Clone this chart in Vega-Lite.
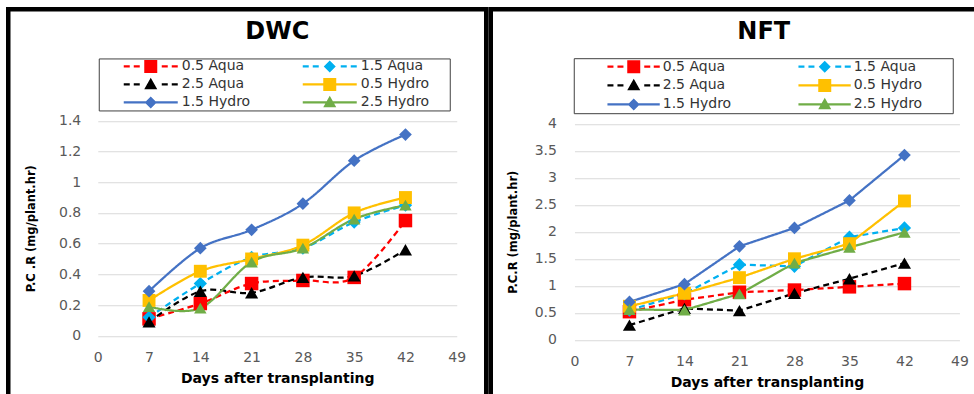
{
  "$schema": "https://vega.github.io/schema/vega-lite/v6.json",
  "background": "#ffffff",
  "padding": {"left": 5.25, "top": 6.25, "right": 0, "bottom": 0},
  "spacing": 4.5,
  "bounds": "flush",
  "datasets": {
    "pcr": [
      {"system": "DWC", "series": "0.5 Aqua", "day": 7, "pcr": 0.11},
      {"system": "DWC", "series": "0.5 Aqua", "day": 14, "pcr": 0.21},
      {"system": "DWC", "series": "0.5 Aqua", "day": 21, "pcr": 0.34},
      {"system": "DWC", "series": "0.5 Aqua", "day": 28, "pcr": 0.36},
      {"system": "DWC", "series": "0.5 Aqua", "day": 35, "pcr": 0.38},
      {"system": "DWC", "series": "0.5 Aqua", "day": 42, "pcr": 0.75},
      {"system": "DWC", "series": "1.5 Aqua", "day": 7, "pcr": 0.12},
      {"system": "DWC", "series": "1.5 Aqua", "day": 14, "pcr": 0.34},
      {"system": "DWC", "series": "1.5 Aqua", "day": 21, "pcr": 0.51},
      {"system": "DWC", "series": "1.5 Aqua", "day": 28, "pcr": 0.57},
      {"system": "DWC", "series": "1.5 Aqua", "day": 35, "pcr": 0.74},
      {"system": "DWC", "series": "1.5 Aqua", "day": 42, "pcr": 0.85},
      {"system": "DWC", "series": "2.5 Aqua", "day": 7, "pcr": 0.09},
      {"system": "DWC", "series": "2.5 Aqua", "day": 14, "pcr": 0.29},
      {"system": "DWC", "series": "2.5 Aqua", "day": 21, "pcr": 0.28},
      {"system": "DWC", "series": "2.5 Aqua", "day": 28, "pcr": 0.38},
      {"system": "DWC", "series": "2.5 Aqua", "day": 35, "pcr": 0.39},
      {"system": "DWC", "series": "2.5 Aqua", "day": 42, "pcr": 0.56},
      {"system": "DWC", "series": "0.5 Hydro", "day": 7, "pcr": 0.23},
      {"system": "DWC", "series": "0.5 Hydro", "day": 14, "pcr": 0.42},
      {"system": "DWC", "series": "0.5 Hydro", "day": 21, "pcr": 0.5},
      {"system": "DWC", "series": "0.5 Hydro", "day": 28, "pcr": 0.59},
      {"system": "DWC", "series": "0.5 Hydro", "day": 35, "pcr": 0.8},
      {"system": "DWC", "series": "0.5 Hydro", "day": 42, "pcr": 0.9},
      {"system": "DWC", "series": "1.5 Hydro", "day": 7, "pcr": 0.29},
      {"system": "DWC", "series": "1.5 Hydro", "day": 14, "pcr": 0.57},
      {"system": "DWC", "series": "1.5 Hydro", "day": 21, "pcr": 0.69},
      {"system": "DWC", "series": "1.5 Hydro", "day": 28, "pcr": 0.86},
      {"system": "DWC", "series": "1.5 Hydro", "day": 35, "pcr": 1.14},
      {"system": "DWC", "series": "1.5 Hydro", "day": 42, "pcr": 1.31},
      {"system": "DWC", "series": "2.5 Hydro", "day": 7, "pcr": 0.19},
      {"system": "DWC", "series": "2.5 Hydro", "day": 14, "pcr": 0.18},
      {"system": "DWC", "series": "2.5 Hydro", "day": 21, "pcr": 0.48},
      {"system": "DWC", "series": "2.5 Hydro", "day": 28, "pcr": 0.57},
      {"system": "DWC", "series": "2.5 Hydro", "day": 35, "pcr": 0.76},
      {"system": "DWC", "series": "2.5 Hydro", "day": 42, "pcr": 0.85},
      {"system": "NFT", "series": "0.5 Aqua", "day": 7, "pcr": 0.52},
      {"system": "NFT", "series": "0.5 Aqua", "day": 14, "pcr": 0.74},
      {"system": "NFT", "series": "0.5 Aqua", "day": 21, "pcr": 0.88},
      {"system": "NFT", "series": "0.5 Aqua", "day": 28, "pcr": 0.92},
      {"system": "NFT", "series": "0.5 Aqua", "day": 35, "pcr": 0.98},
      {"system": "NFT", "series": "0.5 Aqua", "day": 42, "pcr": 1.04},
      {"system": "NFT", "series": "1.5 Aqua", "day": 7, "pcr": 0.55},
      {"system": "NFT", "series": "1.5 Aqua", "day": 14, "pcr": 0.85},
      {"system": "NFT", "series": "1.5 Aqua", "day": 21, "pcr": 1.39},
      {"system": "NFT", "series": "1.5 Aqua", "day": 28, "pcr": 1.36},
      {"system": "NFT", "series": "1.5 Aqua", "day": 35, "pcr": 1.9},
      {"system": "NFT", "series": "1.5 Aqua", "day": 42, "pcr": 2.07},
      {"system": "NFT", "series": "2.5 Aqua", "day": 7, "pcr": 0.27},
      {"system": "NFT", "series": "2.5 Aqua", "day": 14, "pcr": 0.58},
      {"system": "NFT", "series": "2.5 Aqua", "day": 21, "pcr": 0.54},
      {"system": "NFT", "series": "2.5 Aqua", "day": 28, "pcr": 0.86},
      {"system": "NFT", "series": "2.5 Aqua", "day": 35, "pcr": 1.13},
      {"system": "NFT", "series": "2.5 Aqua", "day": 42, "pcr": 1.42},
      {"system": "NFT", "series": "0.5 Hydro", "day": 7, "pcr": 0.62},
      {"system": "NFT", "series": "0.5 Hydro", "day": 14, "pcr": 0.86},
      {"system": "NFT", "series": "0.5 Hydro", "day": 21, "pcr": 1.15},
      {"system": "NFT", "series": "0.5 Hydro", "day": 28, "pcr": 1.5},
      {"system": "NFT", "series": "0.5 Hydro", "day": 35, "pcr": 1.78},
      {"system": "NFT", "series": "0.5 Hydro", "day": 42, "pcr": 2.57},
      {"system": "NFT", "series": "1.5 Hydro", "day": 7, "pcr": 0.7},
      {"system": "NFT", "series": "1.5 Hydro", "day": 14, "pcr": 1.03},
      {"system": "NFT", "series": "1.5 Hydro", "day": 21, "pcr": 1.73},
      {"system": "NFT", "series": "1.5 Hydro", "day": 28, "pcr": 2.07},
      {"system": "NFT", "series": "1.5 Hydro", "day": 35, "pcr": 2.58},
      {"system": "NFT", "series": "1.5 Hydro", "day": 42, "pcr": 3.42},
      {"system": "NFT", "series": "2.5 Hydro", "day": 7, "pcr": 0.56},
      {"system": "NFT", "series": "2.5 Hydro", "day": 14, "pcr": 0.55},
      {"system": "NFT", "series": "2.5 Hydro", "day": 21, "pcr": 0.85},
      {"system": "NFT", "series": "2.5 Hydro", "day": 28, "pcr": 1.42},
      {"system": "NFT", "series": "2.5 Hydro", "day": 35, "pcr": 1.71},
      {"system": "NFT", "series": "2.5 Hydro", "day": 42, "pcr": 1.99}
    ]
  },
  "hconcat": [
    {
      "width": 478,
      "height": 390,
      "data": {"name": "pcr"},
      "transform": [{"filter": "datum.system === 'DWC'"}],
      "title": {"text": "DWC", "anchor": "middle", "frame": "group", "offset": -34.5, "dx": 30, "font": "DejaVu Sans", "fontSize": 24, "fontWeight": "bold", "color": "#000000"},
      "resolve": {"scale": {"color": "independent", "shape": "independent"}},
      "encoding": {
        "x": {
          "field": "day", "type": "quantitative",
          "scale": {"domain": [0, 49], "range": [89.5, 448.5], "nice": false, "zero": false},
          "axis": {"values": [0, 7, 14, 21, 28, 35, 42, 49], "title": "Days after transplanting", "offset": -63.5, "grid": false, "ticks": false, "domain": false, "labelFlush": false, "labelPadding": 15, "labelFontSize": 14, "labelColor": "#595959", "titleFontSize": 14, "titleFontWeight": "bold", "titleColor": "#000000", "titlePadding": 7}
        },
        "y": {
          "field": "pcr", "type": "quantitative",
          "scale": {"domain": [0, 1.4], "range": [326.5, 111.5], "nice": false},
          "axis": {"values": [0, 0.2, 0.4, 0.6, 0.8, 1, 1.2, 1.4], "format": "~g", "title": "P.C .R (mg/plant.hr)", "offset": -89.5, "grid": true, "gridColor": "#D9D9D9", "gridWidth": 1, "ticks": false, "domain": false, "labelFlush": false, "labelPadding": 17, "labelFontSize": 14, "labelColor": "#595959", "titleFontSize": 11.5, "titleFontWeight": "bold", "titleColor": "#000000", "titlePadding": 22}
        }
      },
      "layer": [
        {
          "data": {"values": [{}]},
          "mark": {"type": "rect", "filled": false, "color": "#404040", "strokeWidth": 1},
          "encoding": {
            "x": {"datum": 0, "type": "quantitative"},
            "x2": {"datum": 49},
            "y": {"datum": 0, "type": "quantitative"},
            "y2": {"datum": 1.4}
          }
        },
        {
          "mark": {"type": "line", "interpolate": "cardinal", "strokeWidth": 2.25},
          "encoding": {
            "color": {"field": "series", "type": "nominal", "legend": null,
              "scale": {"domain": ["0.5 Aqua", "1.5 Aqua", "2.5 Aqua", "0.5 Hydro", "1.5 Hydro", "2.5 Hydro"], "range": ["#FF0000", "#00B0F0", "#000000", "#FFC000", "#4472C4", "#70AD47"]}},
            "strokeDash": {"field": "series", "type": "nominal", "legend": null,
              "scale": {"domain": ["0.5 Aqua", "1.5 Aqua", "2.5 Aqua", "0.5 Hydro", "1.5 Hydro", "2.5 Hydro"], "range": [[6, 4], [6, 4], [6, 4], [1, 0], [1, 0], [1, 0]]}}
          }
        },
        {
          "mark": {"type": "point", "filled": true, "opacity": 1},
          "encoding": {
            "color": {"field": "series", "type": "nominal", "legend": null,
              "scale": {"domain": ["0.5 Aqua", "1.5 Aqua", "2.5 Aqua", "0.5 Hydro", "1.5 Hydro", "2.5 Hydro"], "range": ["#FF0000", "#00B0F0", "#000000", "#FFC000", "#4472C4", "#70AD47"]}},
            "shape": {"field": "series", "type": "nominal", "legend": null,
              "scale": {"domain": ["0.5 Aqua", "1.5 Aqua", "2.5 Aqua", "0.5 Hydro", "1.5 Hydro", "2.5 Hydro"], "range": ["square", "diamond", "triangle-up", "square", "diamond", "triangle-up"]}},
            "size": {"field": "series", "type": "ordinal", "legend": null,
              "scale": {"domain": ["0.5 Aqua", "1.5 Aqua", "2.5 Aqua", "0.5 Hydro", "1.5 Hydro", "2.5 Hydro"], "range": [182, 156, 196, 182, 156, 196]}}
          }
        },
        {
          "transform": [{"filter": "false"}],
          "mark": {"type": "point", "filled": true},
          "encoding": {
            "color": {"field": "series", "type": "nominal",
              "scale": {"domain": ["0.5 Aqua", "2.5 Aqua", "1.5 Hydro", "1.5 Aqua", "0.5 Hydro", "2.5 Hydro"], "range": ["#FF0000", "#000000", "#4472C4", "#00B0F0", "#FFC000", "#70AD47"]},
              "legend": {"orient": "none", "legendX": 90.5, "legendY": 49.2, "columns": 2, "columnPadding": 27, "rowPadding": 2, "padding": 0, "clipHeight": 16, "symbolSize": 6400, "symbolStrokeWidth": 0, "symbolOpacity": 1, "labelOffset": 3, "labelFontSize": 14, "labelColor": "#333333", "strokeColor": "#404040", "title": " ", "titleOrient": "right", "titlePadding": 21, "titleFontSize": 14, "gridAlign": "each"}},
            "shape": {"field": "series", "type": "nominal",
              "scale": {"domain": ["0.5 Aqua", "2.5 Aqua", "1.5 Hydro", "1.5 Aqua", "0.5 Hydro", "2.5 Hydro"], "range": [
                "M-0.375,-0.0275H-0.225V0.0275H-0.375Z M-0.125,-0.0275H0.025V0.0275H-0.125Z M0.575,-0.0275H0.725V0.0275H0.575Z M0.825,-0.0275H0.975V0.0275H0.825Z M0.1375,-0.1625H0.4625V0.1625H0.1375Z",
                "M-0.375,-0.0275H-0.225V0.0275H-0.375Z M-0.125,-0.0275H0.025V0.0275H-0.125Z M0.575,-0.0275H0.725V0.0275H0.575Z M0.825,-0.0275H0.975V0.0275H0.825Z M0.3,-0.165L0.4625,0.12L0.1375,0.12Z",
                "M-0.375,-0.0275H0.975V0.0275H-0.375Z M0.3,-0.15L0.45,0L0.3,0.15L0.15,0Z",
                "M-0.375,-0.0275H-0.225V0.0275H-0.375Z M-0.125,-0.0275H0.025V0.0275H-0.125Z M0.575,-0.0275H0.725V0.0275H0.575Z M0.825,-0.0275H0.975V0.0275H0.825Z M0.3,-0.15L0.45,0L0.3,0.15L0.15,0Z",
                "M-0.375,-0.0275H0.975V0.0275H-0.375Z M0.1375,-0.1625H0.4625V0.1625H0.1375Z",
                "M-0.375,-0.0275H0.975V0.0275H-0.375Z M0.3,-0.165L0.4625,0.12L0.1375,0.12Z"
              ]},
              "legend": {"orient": "none", "legendX": 90.5, "legendY": 49.2, "columns": 2, "columnPadding": 27, "rowPadding": 2, "padding": 0, "clipHeight": 16, "symbolSize": 6400, "symbolStrokeWidth": 0, "symbolOpacity": 1, "labelOffset": 3, "labelFontSize": 14, "labelColor": "#333333", "strokeColor": "#404040", "title": " ", "titleOrient": "right", "titlePadding": 21, "titleFontSize": 14, "gridAlign": "each"}}
          }
        }
      ]
    },
    {
      "width": 490,
      "height": 390,
      "data": {"name": "pcr"},
      "transform": [{"filter": "datum.system === 'NFT'"}],
      "title": {"text": "NFT", "anchor": "middle", "frame": "group", "offset": -34.5, "dx": 28, "font": "DejaVu Sans", "fontSize": 24, "fontWeight": "bold", "color": "#000000"},
      "resolve": {"scale": {"color": "independent", "shape": "independent"}},
      "encoding": {
        "x": {
          "field": "day", "type": "quantitative",
          "scale": {"domain": [0, 49], "range": [83.7, 468.7], "nice": false, "zero": false},
          "axis": {"values": [0, 7, 14, 21, 28, 35, 42, 49], "title": "Days after transplanting", "offset": -59.5, "grid": false, "ticks": false, "domain": false, "labelFlush": false, "labelPadding": 15, "labelFontSize": 14, "labelColor": "#595959", "titleFontSize": 14, "titleFontWeight": "bold", "titleColor": "#000000", "titlePadding": 7}
        },
        "y": {
          "field": "pcr", "type": "quantitative",
          "scale": {"domain": [0, 4], "range": [330.5, 114.5], "nice": false},
          "axis": {"values": [0, 0.5, 1, 1.5, 2, 2.5, 3, 3.5, 4], "format": "~g", "title": "P.C.R (mg/plant.hr)", "offset": -83.7, "grid": true, "gridColor": "#D9D9D9", "gridWidth": 1, "ticks": false, "domain": false, "labelFlush": false, "labelPadding": 18, "labelFontSize": 14, "labelColor": "#595959", "titleFontSize": 11.5, "titleFontWeight": "bold", "titleColor": "#000000", "titlePadding": 16}
        }
      },
      "layer": [
        {
          "data": {"values": [{}]},
          "mark": {"type": "rect", "filled": false, "color": "#404040", "strokeWidth": 1},
          "encoding": {
            "x": {"datum": 0, "type": "quantitative"},
            "x2": {"datum": 49},
            "y": {"datum": 0, "type": "quantitative"},
            "y2": {"datum": 4}
          }
        },
        {
          "mark": {"type": "line", "interpolate": "linear", "strokeWidth": 2.25},
          "encoding": {
            "color": {"field": "series", "type": "nominal", "legend": null,
              "scale": {"domain": ["0.5 Aqua", "1.5 Aqua", "2.5 Aqua", "0.5 Hydro", "1.5 Hydro", "2.5 Hydro"], "range": ["#FF0000", "#00B0F0", "#000000", "#FFC000", "#4472C4", "#70AD47"]}},
            "strokeDash": {"field": "series", "type": "nominal", "legend": null,
              "scale": {"domain": ["0.5 Aqua", "1.5 Aqua", "2.5 Aqua", "0.5 Hydro", "1.5 Hydro", "2.5 Hydro"], "range": [[6, 4], [6, 4], [6, 4], [1, 0], [1, 0], [1, 0]]}}
          }
        },
        {
          "mark": {"type": "point", "filled": true, "opacity": 1},
          "encoding": {
            "color": {"field": "series", "type": "nominal", "legend": null,
              "scale": {"domain": ["0.5 Aqua", "1.5 Aqua", "2.5 Aqua", "0.5 Hydro", "1.5 Hydro", "2.5 Hydro"], "range": ["#FF0000", "#00B0F0", "#000000", "#FFC000", "#4472C4", "#70AD47"]}},
            "shape": {"field": "series", "type": "nominal", "legend": null,
              "scale": {"domain": ["0.5 Aqua", "1.5 Aqua", "2.5 Aqua", "0.5 Hydro", "1.5 Hydro", "2.5 Hydro"], "range": ["square", "diamond", "triangle-up", "square", "diamond", "triangle-up"]}},
            "size": {"field": "series", "type": "ordinal", "legend": null,
              "scale": {"domain": ["0.5 Aqua", "1.5 Aqua", "2.5 Aqua", "0.5 Hydro", "1.5 Hydro", "2.5 Hydro"], "range": [182, 156, 196, 182, 156, 196]}}
          }
        },
        {
          "transform": [{"filter": "false"}],
          "mark": {"type": "point", "filled": true},
          "encoding": {
            "color": {"field": "series", "type": "nominal",
              "scale": {"domain": ["0.5 Aqua", "2.5 Aqua", "1.5 Hydro", "1.5 Aqua", "0.5 Hydro", "2.5 Hydro"], "range": ["#FF0000", "#000000", "#4472C4", "#00B0F0", "#FFC000", "#70AD47"]},
              "legend": {"orient": "none", "legendX": 83, "legendY": 48.95, "columns": 2, "columnPadding": 33, "rowPadding": 2, "padding": 0, "clipHeight": 16.5, "symbolSize": 7396, "symbolStrokeWidth": 0, "symbolOpacity": 1, "labelOffset": 3, "labelFontSize": 14, "labelColor": "#333333", "strokeColor": "#404040", "title": " ", "titleOrient": "right", "titlePadding": 31, "titleFontSize": 14, "gridAlign": "each"}},
            "shape": {"field": "series", "type": "nominal",
              "scale": {"domain": ["0.5 Aqua", "2.5 Aqua", "1.5 Hydro", "1.5 Aqua", "0.5 Hydro", "2.5 Hydro"], "range": [
                "M-0.2163,-0.0256H-0.0767V0.0256H-0.2163Z M0.0163,-0.0256H0.1558V0.0256H0.0163Z M0.6395,-0.0256H0.7791V0.0256H0.6395Z M0.8605,-0.0256H1V0.0256H0.8605Z M0.2441,-0.1512H0.5465V0.1512H0.2441Z",
                "M-0.2163,-0.0256H-0.0767V0.0256H-0.2163Z M0.0163,-0.0256H0.1558V0.0256H0.0163Z M0.6395,-0.0256H0.7791V0.0256H0.6395Z M0.8605,-0.0256H1V0.0256H0.8605Z M0.3953,-0.1535L0.5465,0.1116L0.2441,0.1116Z",
                "M-0.2163,-0.0256H1V0.0256H-0.2163Z M0.3953,-0.1395L0.5349,0L0.3953,0.1395L0.2558,0Z",
                "M-0.2163,-0.0256H-0.0767V0.0256H-0.2163Z M0.0163,-0.0256H0.1558V0.0256H0.0163Z M0.6395,-0.0256H0.7791V0.0256H0.6395Z M0.8605,-0.0256H1V0.0256H0.8605Z M0.3953,-0.1395L0.5349,0L0.3953,0.1395L0.2558,0Z",
                "M-0.2163,-0.0256H1V0.0256H-0.2163Z M0.2441,-0.1512H0.5465V0.1512H0.2441Z",
                "M-0.2163,-0.0256H1V0.0256H-0.2163Z M0.3953,-0.1535L0.5465,0.1116L0.2441,0.1116Z"
              ]},
              "legend": {"orient": "none", "legendX": 83, "legendY": 48.95, "columns": 2, "columnPadding": 33, "rowPadding": 2, "padding": 0, "clipHeight": 16.5, "symbolSize": 7396, "symbolStrokeWidth": 0, "symbolOpacity": 1, "labelOffset": 3, "labelFontSize": 14, "labelColor": "#333333", "strokeColor": "#404040", "title": " ", "titleOrient": "right", "titlePadding": 31, "titleFontSize": 14, "gridAlign": "each"}}
          }
        }
      ]
    }
  ],
  "config": {
    "font": "DejaVu Sans",
    "view": {"stroke": "#000000", "strokeWidth": 4.5},
    "axis": {"labelFont": "DejaVu Sans", "titleFont": "DejaVu Sans"},
    "legend": {"labelFont": "DejaVu Sans", "titleFont": "DejaVu Sans"}
  }
}
